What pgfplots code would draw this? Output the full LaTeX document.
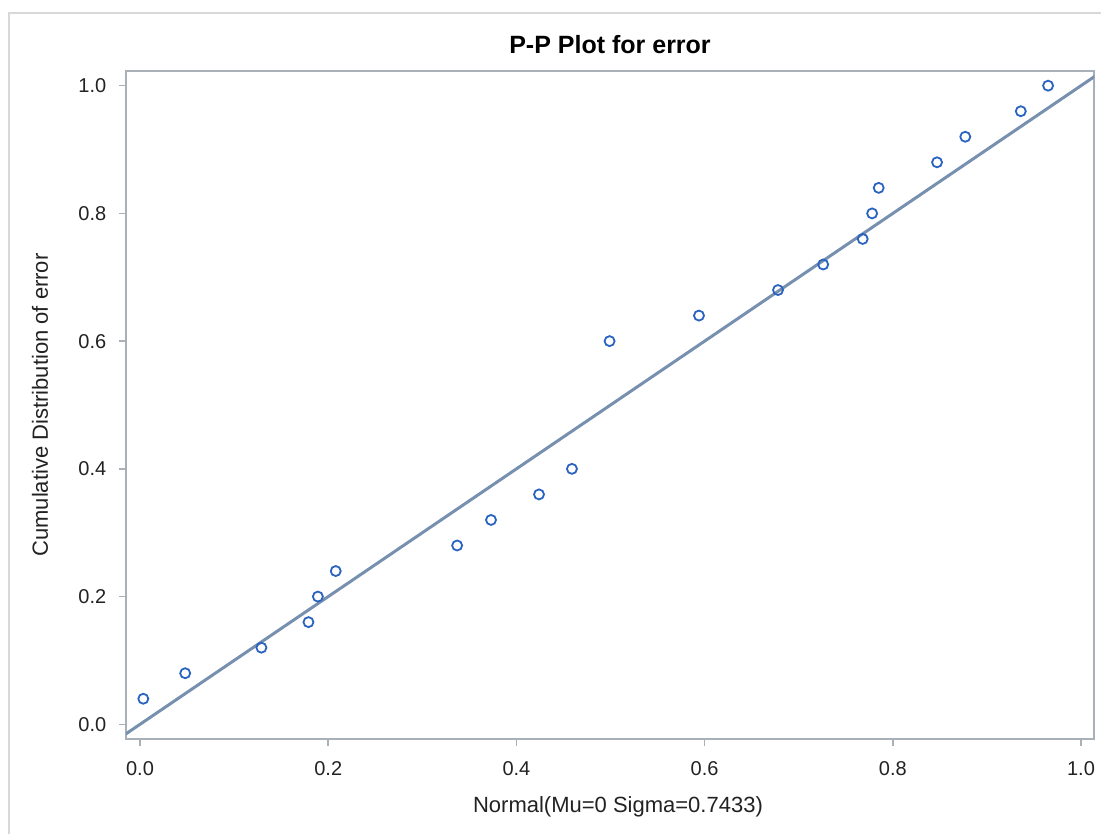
\documentclass[border=0pt]{standalone}
\usepackage{pgfplots}
\pgfplotsset{compat=1.18}
\usepackage{fontspec}
\setmainfont{Liberation Sans}
\definecolor{axgray}{HTML}{A9B0B8}
\definecolor{refline}{HTML}{7890B0}
\definecolor{mk}{HTML}{2B63C0}
\definecolor{framegray}{HTML}{D8D8D8}
\definecolor{txt}{HTML}{222222}
\begin{document}
\begin{tikzpicture}
\path[use as bounding box] (0,0) rectangle (550.5pt,417pt);
\draw[framegray, line width=0.6pt] (4.5pt,0) -- (4.5pt,410.5pt) -- (550.5pt,410.5pt);
\begin{axis}[
  at={(63pt,47.5pt)}, anchor=south west,
  scale only axis, width=484pt, height=334pt,
  xmin=-0.0149, xmax=1.0138, ymin=-0.023, ymax=1.023,
  xtick={0,0.2,0.4,0.6,0.8,1.0}, ytick={0,0.2,0.4,0.6,0.8,1.0},
  xticklabels={0.0,0.2,0.4,0.6,0.8,1.0},
  yticklabels={0.0,0.2,0.4,0.6,0.8,1.0},
  /pgf/number format/assume math mode=true,
  tick align=outside, major tick length=3.5pt,
  tick style={axgray, line width=0.75pt},
  axis line style={axgray, line width=0.75pt},
  every axis/.append style={line width=0.75pt},
  xtick pos=bottom, ytick pos=left,
  ticklabel style={font=\fontsize{10}{12}\selectfont, text=txt},
  xticklabel style={yshift=-4pt},
  yticklabel style={xshift=-2.7pt},
  title={P-P Plot for error},
  title style={font=\fontsize{12.5}{14}\selectfont\bfseries, at={(axis description cs:0.5,1)}, anchor=base, yshift=2.5pt},
  xlabel={Normal(Mu=0 Sigma=0.7433)},
  ylabel={Cumulative Distribution of error},
  xlabel style={font=\fontsize{11}{13}\selectfont, text=txt, at={(axis description cs:0.5,0)}, anchor=center, yshift=-34pt, xshift=4pt},
  ylabel style={font=\fontsize{11}{13}\selectfont, text=txt, at={(axis description cs:0,0.5)}, anchor=center, rotate=0},
  every axis y label/.append style={yshift=43pt},
]
\addplot[refline, line width=1.5pt] coordinates {(-0.1,-0.1) (1.1,1.1)};
\addplot[only marks, mark=o, mark size=2.5pt, mark options={mk, line width=0.9pt}] coordinates {
(0.0035,0.04)
(0.048,0.08)
(0.129,0.12)
(0.179,0.16)
(0.189,0.20)
(0.208,0.24)
(0.337,0.28)
(0.373,0.32)
(0.424,0.36)
(0.459,0.40)
(0.499,0.60)
(0.594,0.64)
(0.678,0.68)
(0.726,0.72)
(0.768,0.76)
(0.778,0.80)
(0.785,0.84)
(0.847,0.88)
(0.877,0.92)
(0.936,0.96)
(0.965,1.00)
};
\end{axis}
\end{tikzpicture}
\end{document}
